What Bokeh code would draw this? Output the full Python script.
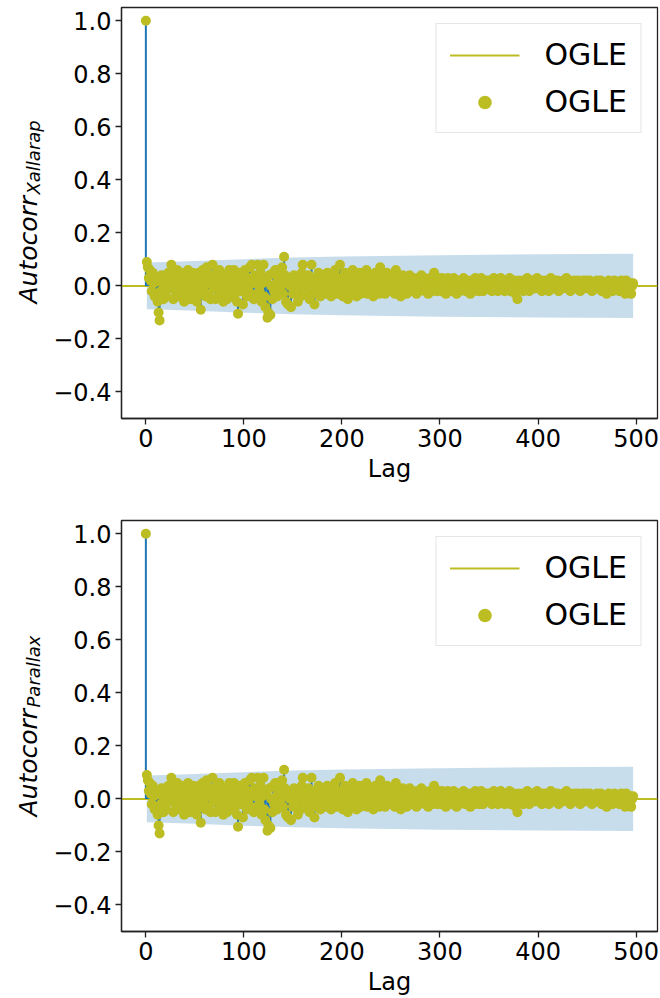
import numpy as np
from bokeh.plotting import figure
from bokeh.models import (Legend, LegendItem, FixedTicker,
                          CustomJSTickFormatter, Range1d)
from bokeh.core.properties import value
from bokeh.layouts import column, row
from bokeh.embed import file_html
from bokeh.resources import INLINE

# ---- data (autocorrelation vs lag) ----
acf_000_049 = [1.00, 0.09, 0.07, 0.03, 0.06, 0.02, -0.02, 0.05, 0.01, -0.04,
               0.03, -0.03, -0.06, -0.10, -0.13, -0.02, 0.04, 0.01, -0.05, 0.03,
               0.00, -0.04, 0.02, 0.05, -0.01, 0.03, 0.08, 0.02, -0.05, 0.04,
               0.01, -0.03, 0.06, 0.00, -0.04, 0.03, 0.05, -0.02, 0.02, -0.06,
               0.01, 0.04, -0.03, 0.06, 0.00, -0.05, 0.02, -0.01, 0.05, -0.04]
acf_050_099 = [0.03, 0.00, -0.06, 0.02, 0.05, -0.03, -0.09, 0.01, 0.06, -0.02,
               0.03, -0.04, 0.07, 0.01, -0.03, 0.04, -0.05, 0.02, 0.08, -0.01,
               0.03, -0.05, 0.05, 0.00, -0.04, 0.06, 0.02, -0.03, 0.01, -0.06,
               0.04, -0.02, 0.03, -0.05, 0.02, 0.06, -0.01, -0.04, 0.03, 0.00,
               0.06, -0.03, 0.02, -0.06, -0.105, 0.01, 0.05, -0.02, 0.03, -0.07]
acf_100_149 = [0.02, 0.06, -0.01, -0.04, 0.03, 0.00, 0.07, -0.03, 0.08, 0.02,
               -0.05, 0.04, 0.01, -0.03, 0.08, 0.03, -0.02, 0.05, -0.06, 0.01,
               0.08, -0.04, -0.08, 0.02, -0.12, -0.10, 0.04, -0.11, 0.00, -0.05,
               0.05, -0.02, 0.06, 0.01, -0.04, 0.03, 0.06, -0.01, 0.02, 0.07,
               -0.03, 0.11, 0.04, -0.06, 0.01, -0.07, 0.03, 0.00, -0.08, 0.02]
acf_150_199 = [-0.03, 0.04, 0.01, -0.02, 0.03, -0.06, 0.00, 0.02, -0.04, 0.05,
               0.08, 0.01, -0.03, 0.03, 0.00, -0.02, 0.04, -0.05, 0.02, 0.08,
               0.01, -0.03, -0.07, 0.03, 0.00, -0.02, 0.05, 0.01, -0.04, 0.02,
               0.03, -0.01, 0.04, -0.03, 0.00, 0.05, 0.02, -0.02, 0.03, -0.04,
               0.01, 0.04, -0.02, 0.06, 0.00, -0.03, 0.03, 0.01, 0.08, -0.02]
acf_200_249 = [0.03, -0.04, 0.01, 0.05, -0.02, 0.02, -0.05, 0.04, 0.00, 0.03,
               -0.03, 0.06, 0.01, -0.02, 0.04, -0.04, 0.02, 0.00, 0.05, -0.03,
               0.03, -0.01, 0.04, -0.02, 0.02, 0.06, -0.03, 0.01, 0.03, -0.01,
               0.04, 0.00, -0.04, 0.02, 0.05, -0.02, 0.01, 0.03, -0.03, 0.07,
               0.02, -0.01, 0.04, 0.00, -0.03, 0.03, 0.05, -0.02, 0.01, 0.02]
acf_250_299 = [-0.02, 0.04, 0.00, 0.03, -0.03, 0.06, 0.02, -0.01, 0.03, 0.00,
               -0.04, 0.02, 0.04, -0.01, 0.01, 0.03, -0.03, 0.02, 0.00, 0.04,
               -0.02, 0.01, 0.03, -0.01, 0.02, 0.00, -0.03, 0.03, 0.01, -0.02,
               0.02, 0.04, -0.01, 0.00, 0.03, -0.02, 0.01, 0.02, -0.03, 0.01,
               0.03, 0.00, -0.02, 0.02, 0.05, -0.01, 0.01, -0.02, 0.03, 0.00]
acf_300_349 = [0.02, -0.02, 0.03, 0.00, -0.01, 0.02, -0.03, 0.01, 0.03, -0.01,
               0.00, 0.02, -0.02, 0.01, 0.03, -0.01, 0.00, -0.03, 0.02, 0.01,
               -0.02, 0.02, 0.00, -0.01, 0.03, 0.01, -0.02, 0.00, 0.02, -0.01,
               0.01, -0.03, 0.02, 0.00, 0.01, -0.02, 0.03, 0.00, -0.01, 0.02,
               -0.02, 0.01, 0.03, 0.00, -0.02, 0.01, 0.02, -0.01, 0.00, 0.02]
acf_350_399 = [-0.01, 0.02, 0.00, -0.02, 0.01, 0.03, -0.01, 0.00, 0.02, -0.02,
               0.01, 0.00, 0.03, -0.01, 0.02, 0.00, -0.02, 0.01, 0.02, -0.01,
               0.00, 0.03, -0.02, 0.01, 0.00, -0.01, 0.02, -0.03, 0.01, -0.05,
               0.00, 0.02, -0.01, 0.01, 0.00, -0.02, 0.02, 0.01, -0.01, 0.03,
               0.00, -0.02, 0.01, 0.02, -0.01, 0.00, 0.02, -0.01, 0.01, 0.03]
acf_400_449 = [0.00, -0.01, 0.02, 0.01, -0.02, 0.00, 0.02, -0.01, 0.01, 0.00,
               0.02, -0.02, 0.01, 0.03, 0.00, -0.01, 0.01, 0.02, -0.01, 0.00,
               0.02, -0.02, 0.01, 0.00, 0.01, -0.01, 0.02, 0.00, 0.01, 0.03,
               -0.01, 0.00, 0.02, -0.02, 0.01, 0.01, -0.01, 0.02, 0.00, -0.01,
               0.01, 0.02, 0.00, -0.02, 0.01, 0.00, 0.02, -0.01, 0.01, 0.02]
acf_450_497 = [0.00, -0.01, 0.01, 0.02, 0.00, -0.02, 0.01, 0.00, 0.01, -0.01,
               0.02, 0.00, -0.01, 0.01, 0.02, -0.02, 0.00, 0.01, -0.01, 0.00,
               -0.03, 0.01, 0.02, 0.00, -0.01, 0.01, -0.02, 0.00, 0.02, 0.01,
               -0.01, 0.00, 0.01, -0.02, 0.00, 0.02, -0.01, 0.01, 0.00, -0.03,
               0.02, 0.01, -0.01, 0.00, 0.01, -0.03, 0.00, 0.01]

acf_xallarap = (acf_000_049 + acf_050_099 + acf_100_149 + acf_150_199 +
                acf_200_249 + acf_250_299 + acf_300_349 + acf_350_399 +
                acf_400_449 + acf_450_497)
acf_parallax = list(acf_xallarap)

# confidence band half-width (read at a few lags)
band_lags = [1, 20, 50, 100, 150, 200, 300, 400, 497]
band_half = [0.088, 0.090, 0.094, 0.101, 0.107, 0.111, 0.116, 0.119, 0.121]

x_ticks = [0, 100, 200, 300, 400, 500]
y_ticks = [-0.4, -0.2, 0.0, 0.2, 0.4, 0.6, 0.8, 1.0]
legend_labels = ["OGLE", "OGLE"]
ylabel_main = "Autocorr"
ylabel_subs = ["Xallarap", "Parallax"]
X_LO, X_HI = -24.85, 521.85
Y_LO, Y_HI = -0.5, 1.05

OLIVE = "#bcbd22"
BLUE = "#1f77b4"
FONT = "DejaVu Sans"
LABEL_W = 50
FRAME_H = 411


def make_ylabel(subscript, height):
    """Narrow strip left of the axes holding the italic y label.
    Its frame is aligned with the neighbouring plot frame (pixel range)."""
    q = figure(width=LABEL_W, height=height, output_backend="svg",
               toolbar_location=None, x_axis_type=None, y_axis_type=None,
               x_range=Range1d(0, LABEL_W), y_range=Range1d(0, FRAME_H),
               min_border=0)
    q.grid.visible = False
    q.outline_line_color = None
    q.text(x=[28], y=[115], text=[ylabel_main], angle=np.pi / 2,
           text_font=value(FONT), text_font_style="italic",
           text_font_size="25px", text_color="black",
           text_align="left", text_baseline="alphabetic")
    q.text(x=[33], y=[224], text=[subscript], angle=np.pi / 2,
           text_font=value(FONT), text_font_style="italic",
           text_font_size="18px", text_color="black",
           text_align="left", text_baseline="alphabetic")
    return q


def make_panel(values, height, border_top, border_bottom):
    lags = list(range(len(values)))
    p = figure(width=660 - LABEL_W, height=height, output_backend="svg",
               toolbar_location=None,
               x_range=Range1d(X_LO, X_HI), y_range=Range1d(Y_LO, Y_HI),
               min_border_left=120 - LABEL_W, min_border_right=3,
               min_border_top=border_top, min_border_bottom=border_bottom)
    p.grid.visible = False
    p.outline_line_color = "#222222"
    p.outline_line_width = 1.3
    p.background_fill_color = "white"
    p.border_fill_color = "white"

    # confidence band
    upper = list(band_half)
    lower = [-v for v in band_half]
    p.varea(x=band_lags, y1=lower, y2=upper, fill_color=BLUE, fill_alpha=0.25)

    # zero line across the axes
    zero_line = p.line(x=[X_LO, X_HI], y=[0, 0], line_color=OLIVE,
                       line_width=2)

    # stems
    zeros = [0.0] * len(values)
    p.segment(x0=lags, y0=zeros, x1=lags, y1=values, line_color=BLUE,
              line_width=2)
    dots = p.scatter(x=lags, y=values, size=10, fill_color=OLIVE,
                     line_color=OLIVE, line_width=0)

    legend = Legend(items=[LegendItem(label=legend_labels[0], renderers=[zero_line]),
                           LegendItem(label=legend_labels[1], renderers=[dots])],
                    location="top_right")
    legend.label_text_font = FONT
    legend.label_text_font_size = "30px"
    legend.label_text_color = "black"
    legend.glyph_width = 70
    legend.glyph_height = 34
    legend.label_standoff = 25
    legend.label_height = 34
    legend.spacing = 12
    legend.padding = 13
    legend.margin = 16
    legend.border_line_color = "#cccccc"
    legend.border_line_width = 1
    legend.background_fill_alpha = 0.85
    p.add_layout(legend)

    # axes
    for ax in (p.xaxis[0], p.yaxis[0]):
        ax.major_label_text_font = FONT
        ax.major_label_text_font_size = "24px"
        ax.major_label_text_color = "black"
        ax.axis_line_color = "#222222"
        ax.axis_line_width = 1.3
        ax.major_tick_line_color = "#222222"
        ax.major_tick_line_width = 1.3
        ax.major_tick_out = 6
        ax.major_tick_in = 0
        ax.minor_tick_line_color = None
        ax.major_label_standoff = 4
    p.xaxis.ticker = FixedTicker(ticks=x_ticks)
    p.yaxis.ticker = FixedTicker(ticks=y_ticks)
    p.yaxis.formatter = CustomJSTickFormatter(
        code="return (tick < -1e-9 ? '\u2212' : '') + Math.abs(tick).toFixed(1);")
    p.xaxis.axis_label = "Lag"
    p.xaxis.axis_label_text_font = FONT
    p.xaxis.axis_label_text_font_size = "24px"
    p.xaxis.axis_label_text_font_style = "normal"
    p.xaxis.axis_label_text_color = "black"
    p.xaxis.axis_label_standoff = 5
    return p


H1, H2 = 506, 492
p1 = make_panel(acf_xallarap, H1, 7, 88)
p2 = make_panel(acf_parallax, H2, 14, 67)
l1 = make_ylabel(ylabel_subs[0], H1)
l2 = make_ylabel(ylabel_subs[1], H2)

layout = column(row(l1, p1, spacing=0), row(l2, p2, spacing=0), spacing=0)
open("out.html", "w").write(file_html(layout, INLINE))
